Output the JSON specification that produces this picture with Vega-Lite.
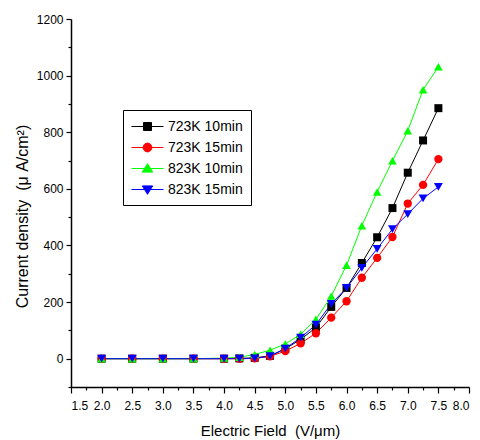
{
  "$schema": "https://vega.github.io/schema/vega-lite/v6.json",
  "width": 398,
  "height": 368,
  "padding": {"left": 71, "top": 19, "right": 11, "bottom": 53},
  "autosize": {"type": "none"},
  "background": "white",
  "config": {
    "view": {"stroke": null},
    "font": "Liberation Sans",
    "axis": {"grid": false, "domainColor": "black", "tickColor": "black", "labelColor": "black", "titleColor": "black", "domainWidth": 1.5, "tickWidth": 1.2, "labelFont": "Liberation Sans", "titleFont": "Liberation Sans", "titleFontWeight": "normal"}
  },
  "data": {"values": [
    {"field": 2.0, "density": 0, "series": "723K 10min"},
    {"field": 2.5, "density": 0, "series": "723K 10min"},
    {"field": 3.0, "density": 0, "series": "723K 10min"},
    {"field": 3.5, "density": 0, "series": "723K 10min"},
    {"field": 4.0, "density": 0, "series": "723K 10min"},
    {"field": 4.25, "density": 1, "series": "723K 10min"},
    {"field": 4.5, "density": 3, "series": "723K 10min"},
    {"field": 4.75, "density": 10, "series": "723K 10min"},
    {"field": 5.0, "density": 35, "series": "723K 10min"},
    {"field": 5.25, "density": 68, "series": "723K 10min"},
    {"field": 5.5, "density": 110, "series": "723K 10min"},
    {"field": 5.75, "density": 183, "series": "723K 10min"},
    {"field": 6.0, "density": 250, "series": "723K 10min"},
    {"field": 6.25, "density": 338, "series": "723K 10min"},
    {"field": 6.5, "density": 429, "series": "723K 10min"},
    {"field": 6.75, "density": 532, "series": "723K 10min"},
    {"field": 7.0, "density": 657, "series": "723K 10min"},
    {"field": 7.25, "density": 771, "series": "723K 10min"},
    {"field": 7.5, "density": 885, "series": "723K 10min"},
    {"field": 2.0, "density": 0, "series": "723K 15min"},
    {"field": 2.5, "density": 0, "series": "723K 15min"},
    {"field": 3.0, "density": 0, "series": "723K 15min"},
    {"field": 3.5, "density": 0, "series": "723K 15min"},
    {"field": 4.0, "density": 0, "series": "723K 15min"},
    {"field": 4.25, "density": 0, "series": "723K 15min"},
    {"field": 4.5, "density": 1, "series": "723K 15min"},
    {"field": 4.75, "density": 8, "series": "723K 15min"},
    {"field": 5.0, "density": 27, "series": "723K 15min"},
    {"field": 5.25, "density": 54, "series": "723K 15min"},
    {"field": 5.5, "density": 90, "series": "723K 15min"},
    {"field": 5.75, "density": 145, "series": "723K 15min"},
    {"field": 6.0, "density": 203, "series": "723K 15min"},
    {"field": 6.25, "density": 286, "series": "723K 15min"},
    {"field": 6.5, "density": 356, "series": "723K 15min"},
    {"field": 6.75, "density": 430, "series": "723K 15min"},
    {"field": 7.0, "density": 548, "series": "723K 15min"},
    {"field": 7.25, "density": 614, "series": "723K 15min"},
    {"field": 7.5, "density": 705, "series": "723K 15min"},
    {"field": 2.0, "density": 0, "series": "823K 10min"},
    {"field": 2.5, "density": 0, "series": "823K 10min"},
    {"field": 3.0, "density": 0, "series": "823K 10min"},
    {"field": 3.5, "density": 0, "series": "823K 10min"},
    {"field": 4.0, "density": 2, "series": "823K 10min"},
    {"field": 4.25, "density": 5, "series": "823K 10min"},
    {"field": 4.5, "density": 15, "series": "823K 10min"},
    {"field": 4.75, "density": 30, "series": "823K 10min"},
    {"field": 5.0, "density": 52, "series": "823K 10min"},
    {"field": 5.25, "density": 86, "series": "823K 10min"},
    {"field": 5.5, "density": 139, "series": "823K 10min"},
    {"field": 5.75, "density": 221, "series": "823K 10min"},
    {"field": 6.0, "density": 330, "series": "823K 10min"},
    {"field": 6.25, "density": 470, "series": "823K 10min"},
    {"field": 6.5, "density": 589, "series": "823K 10min"},
    {"field": 6.75, "density": 699, "series": "823K 10min"},
    {"field": 7.0, "density": 805, "series": "823K 10min"},
    {"field": 7.25, "density": 950, "series": "823K 10min"},
    {"field": 7.5, "density": 1031, "series": "823K 10min"},
    {"field": 2.0, "density": 0, "series": "823K 15min"},
    {"field": 2.5, "density": 0, "series": "823K 15min"},
    {"field": 3.0, "density": 0, "series": "823K 15min"},
    {"field": 3.5, "density": 0, "series": "823K 15min"},
    {"field": 4.0, "density": 0, "series": "823K 15min"},
    {"field": 4.25, "density": 0, "series": "823K 15min"},
    {"field": 4.5, "density": 1, "series": "823K 15min"},
    {"field": 4.75, "density": 9, "series": "823K 15min"},
    {"field": 5.0, "density": 36, "series": "823K 15min"},
    {"field": 5.25, "density": 74, "series": "823K 15min"},
    {"field": 5.5, "density": 120, "series": "823K 15min"},
    {"field": 5.75, "density": 194, "series": "823K 15min"},
    {"field": 6.0, "density": 250, "series": "823K 15min"},
    {"field": 6.25, "density": 321, "series": "823K 15min"},
    {"field": 6.5, "density": 388, "series": "823K 15min"},
    {"field": 6.75, "density": 458, "series": "823K 15min"},
    {"field": 7.0, "density": 511, "series": "823K 15min"},
    {"field": 7.25, "density": 566, "series": "823K 15min"},
    {"field": 7.5, "density": 607, "series": "823K 15min"}
  ]},
  "layer": [
    {
      "mark": {"type": "point", "opacity": 0},
      "encoding": {
        "x": {"field": "field", "type": "quantitative", "scale": {"domain": [1.5, 8.0], "nice": false, "zero": false},
          "axis": {"orient": "bottom", "values": [1.75, 2.25, 2.75, 3.25, 3.75, 4.25, 4.75, 5.25, 5.75, 6.25, 6.75, 7.25, 7.75], "labels": false, "domain": false, "tickSize": 3, "title": null}},
        "y": {"field": "density", "type": "quantitative", "scale": {"domain": [-100, 1200], "nice": false, "zero": false},
          "axis": {"orient": "left", "values": [-100, 100, 300, 500, 700, 900, 1100], "labels": false, "domain": false, "tickSize": 3, "title": null}}
      }
    },
    {
      "mark": {"type": "line", "strokeWidth": 1},
      "encoding": {
        "x": {"field": "field", "type": "quantitative",
          "axis": {"orient": "bottom", "values": [1.5, 2.0, 2.5, 3.0, 3.5, 4.0, 4.5, 5.0, 5.5, 6.0, 6.5, 7.0, 7.5, 8.0], "format": ".1f", "tickSize": 6, "labelFontSize": 12, "labelPadding": 7, "title": "Electric Field\u00a0\u00a0(V/μm)", "titleFontSize": 15, "titlePadding": 12}},
        "y": {"field": "density", "type": "quantitative",
          "axis": {"orient": "left", "values": [0, 200, 400, 600, 800, 1000, 1200], "format": "d", "tickSize": 5, "labelFontSize": 12, "labelPadding": 3, "title": "Current density\u00a0\u00a0(μ A/cm²)", "titleFontSize": 16, "titleY": 197, "titlePadding": 6}},
        "color": {"field": "series", "type": "nominal",
          "scale": {"range": ["#000000", "#FF0000", "#00FF00", "#0000FF"]},
          "legend": {"orient": "none", "legendX": 52, "legendY": 91, "title": null, "strokeColor": "black", "fillColor": "white", "padding": 8, "labelFontSize": 14, "labelFont": "Liberation Sans", "labelColor": "black", "symbolSize": 256, "symbolOffset": 8, "labelOffset": 12, "rowPadding": 5,
            "encode": {"symbols": {"update": {
              "shape": {"signal": "datum.value === '723K 10min' ? 'M-2,0H2M-0.5,-0.5H0.5V0.5H-0.5Z' : datum.value === '723K 15min' ? 'M-2,0H2M0.55,0A0.55,0.55 0 1,1 -0.55,0A0.55,0.55 0 1,1 0.55,0Z' : datum.value === '823K 10min' ? 'M-2,0H2M0,-0.6L0.65,0.45L-0.65,0.45Z' : 'M-2,0H2M0,0.6L0.65,-0.45L-0.65,-0.45Z'"},
              "stroke": {"signal": "scale('color', datum.value)"},
              "fill": {"signal": "scale('color', datum.value)"},
              "size": {"value": 256},
              "strokeWidth": {"value": 1},
              "opacity": {"value": 1}
            }}}}}
      }
    },
    {
      "mark": {"type": "point", "filled": true, "opacity": 1},
      "encoding": {
        "x": {"field": "field", "type": "quantitative", "axis": null},
        "y": {"field": "density", "type": "quantitative", "axis": null},
        "color": {"field": "series", "type": "nominal", "legend": null},
        "shape": {"field": "series", "type": "nominal", "legend": null,
          "scale": {"domain": ["723K 10min", "723K 15min", "823K 10min", "823K 15min"], "range": ["square", "circle", "triangle-up", "triangle-down"]}},
        "size": {"field": "series", "type": "nominal", "legend": null,
          "scale": {"domain": ["723K 10min", "723K 15min", "823K 10min", "823K 15min"], "range": [64, 80, 110, 110]}}
      }
    }
  ],
  "resolve": {"axis": {"x": "independent", "y": "independent"}}
}
